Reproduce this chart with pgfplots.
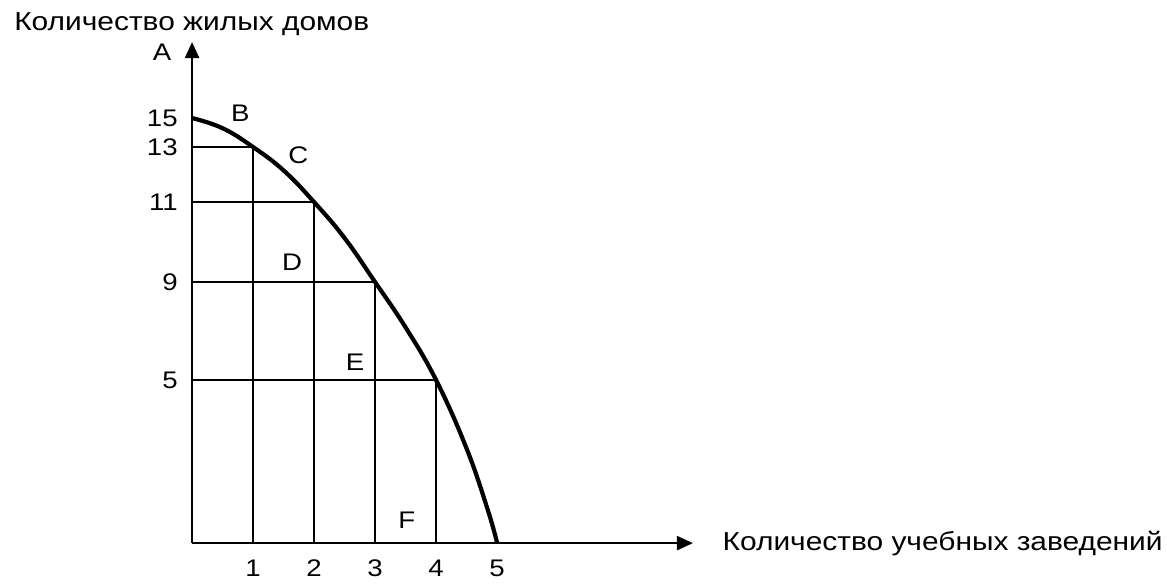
\documentclass[border=0pt]{standalone}
\usepackage{fontspec}
\setmainfont[FakeStretch=1.15]{Liberation Sans}
\usepackage{pgfplots}
\pgfplotsset{compat=1.18}
\usetikzlibrary{arrows.meta}

\begin{document}
\fontsize{12bp}{14bp}\selectfont
\begin{tikzpicture}
\begin{axis}[
    x=30.5bp, y=0.5bp,
    xmin=0, xmax=8.21,
    ymin=0, ymax=20.24,
    % the printed y scale is not linear: map each value to its drawn height
    y coord trafo/.code={\pgfmathparse{#1<5 ? 32.6*#1 : (#1<9 ? 163+24.5*(#1-5) : (#1<11 ? 261+40*(#1-9) : (#1<13 ? 341+27.5*(#1-11) : 396+14.5*(#1-13))))}},
    axis lines=left,
    axis line style={line width=1.2bp, -{Triangle[length=8bp,width=7bp]}},
    xtick={1,2,3,4,5},
    ytick={5,9,11,13,15},
    yticklabels={5,9,11,13,15},
    major tick length=0pt,
    tick label style={font=\fontsize{12bp}{14bp}\selectfont},
    xticklabel style={yshift=-4bp},
    yticklabel style={xshift=-3bp},
    /pgf/number format/assume math mode=true,
    enlargelimits=false,
    clip=false,
]
% rectangles under the curve
\addplot[black, line width=1.1bp] coordinates {(0,13) (1,13) (1,0)};
\addplot[black, line width=1.1bp] coordinates {(0,11) (2,11) (2,0)};
\addplot[black, line width=1.1bp] coordinates {(0,9) (3,9) (3,0)};
\addplot[black, line width=1.1bp] coordinates {(0,5) (4,5) (4,0)};
% production possibilities curve (corners plus points read off the arc)
\addplot[black, line width=2.1bp, smooth, tension=0.7] coordinates {
    (0,15) (0.5,14.3) (1,13) (1.5,12.15) (2,11) (2.5,10.1)
    (3,9) (3.5,7.15) (4,5) (4.5,2.9) (4.85,1.0) (5,0)
};
\node at (axis cs:-0.49,19.55) {A};
\node at (axis cs:0.79,15.34) {B};
\node at (axis cs:1.74,12.71) {C};
\node at (axis cs:1.64,9.5) {D};
\node at (axis cs:2.67,5.73) {E};
\node at (axis cs:3.52,0.71) {F};
\node[anchor=base west, inner sep=0pt, font=\fontsize{13bp}{15bp}\selectfont]
    at (axis cs:-2.92,21.07) {Количество жилых домов};
\node[anchor=base west, inner sep=0pt, font=\fontsize{13bp}{15bp}\selectfont]
    at (axis cs:8.69,-0.215) {Количество учебных заведений};
\path (axis cs:-3.148,-1.166) rectangle (axis cs:15.98,23.14);
\end{axis}
\end{tikzpicture}
\end{document}
